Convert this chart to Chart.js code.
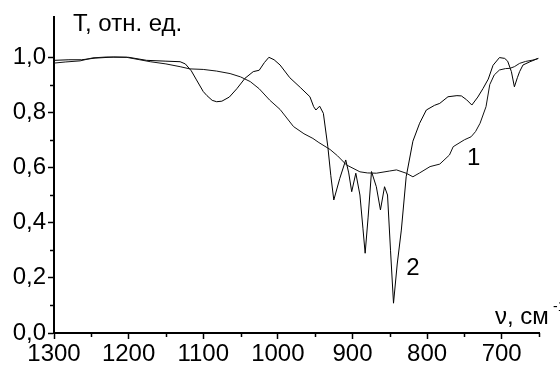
<!DOCTYPE html>
<html>
<head>
<meta charset="utf-8">
<script src="https://cdn.jsdelivr.net/npm/chart.js"></script>
<style>
  body { margin: 0; background: #fff; }
  #wrap { width: 560px; height: 369px; }
</style>
</head>
<body>
<div id="wrap"><canvas id="spectr" width="560" height="369"></canvas></div>
<script>

// curve 1 (smooth one)
let wn1 = [1300, 1285, 1265, 1248, 1230, 1203, 1185, 1171, 1150, 1131, 1118, 1100, 1082, 1064, 1050, 1037,
    1025, 1011, 997, 979, 965, 953, 945, 930, 920, 908, 890, 880, 868, 850, 841, 828, 819, 810, 796, 783,
    770, 765, 750, 741, 735, 729, 721, 716, 710, 703, 695, 689, 683, 676, 668, 658, 651];
let t1 = [0.978, 0.982, 0.986, 0.997, 1.0, 0.999, 0.99, 0.983, 0.975, 0.965, 0.957, 0.955, 0.949, 0.94, 0.928, 0.911,
    0.885, 0.844, 0.81, 0.748, 0.722, 0.705, 0.69, 0.665, 0.642, 0.609, 0.584, 0.58, 0.579, 0.587, 0.591, 0.579, 0.566, 0.58, 0.603, 0.612,
    0.645, 0.675, 0.7, 0.711, 0.73, 0.76, 0.82, 0.9, 0.935, 0.953, 0.958, 0.959, 0.965, 0.977, 0.984, 0.989, 0.995];

// curve 2 (with sharp bands)
let wn2 = [1300, 1280, 1263, 1245, 1220, 1200, 1176, 1150, 1131, 1124, 1116, 1109, 1100, 1095, 1088, 1082, 1075,
    1065, 1055, 1044, 1033, 1025, 1018, 1012, 1005, 997, 984, 970, 957, 952, 949, 944, 939, 933, 929, 925,
    917, 909, 905, 901, 895.5, 890, 886, 883, 879, 874.5, 868, 862.5, 857, 853, 849, 845, 840, 834.5, 828,
    819, 810, 801, 790, 783, 772, 760, 754, 747, 740, 732, 725, 718, 711.6, 703, 696, 692, 687, 683, 679,
    676, 671.5, 662, 651];
let t2 = [0.988, 0.99, 0.99, 0.996, 1.0, 0.999, 0.988, 0.985, 0.983, 0.975, 0.95, 0.917, 0.875, 0.86, 0.843, 0.838, 0.84,
    0.855, 0.885, 0.923, 0.947, 0.952, 0.98, 0.999, 0.99, 0.971, 0.925, 0.89, 0.856, 0.82, 0.808, 0.822, 0.796, 0.675, 0.57, 0.482,
    0.56, 0.627, 0.58, 0.512, 0.579, 0.5, 0.38, 0.289, 0.42, 0.585, 0.53, 0.446, 0.53, 0.5, 0.3, 0.108, 0.25, 0.373, 0.566,
    0.695, 0.76, 0.808, 0.825, 0.832, 0.856, 0.86, 0.859, 0.845, 0.826, 0.855, 0.886, 0.92, 0.97, 0.998, 0.995, 0.985, 0.947, 0.892, 0.925,
    0.947, 0.971, 0.983, 0.995];

let xTicks = [1300, 1200, 1100, 1000, 900, 800, 700];
let yTicks = [0.0, 0.2, 0.4, 0.6, 0.8, 1.0];

let yTitle = 'T, отн. ед.';
let xTitle = 'ν, см';
let curveNames = ['1', '2'];
let nameAt = [[737.5, 0.633], [819, 0.234]];

let fnt = '"Liberation Sans", Arial, sans-serif';

function pts(xs, ys) {
    return xs.map((x, i) => ({ x: x, y: ys[i] }));
}

function isMajorY(v) {
    return yTicks.some(t => Math.abs(t - v) < 1e-6);
}

// minor ticks and the texts
let extras = {
    id: 'extras',
    afterDraw(chart) {
        let ctx = chart.ctx;
        let sx = chart.scales.x, sy = chart.scales.y, area = chart.chartArea;
        ctx.save();
        ctx.strokeStyle = '#000';
        ctx.lineWidth = 1.5;
        ctx.beginPath();
        sx.ticks.forEach(t => {
            if (!xTicks.includes(t.value)) {
                let px = Math.round(sx.getPixelForValue(t.value)) + 0.5;
                ctx.moveTo(px, area.bottom);
                ctx.lineTo(px, area.bottom + 4);
            }
        });
        sy.ticks.forEach(t => {
            if (!isMajorY(t.value)) {
                let py = Math.round(sy.getPixelForValue(t.value)) + 0.5;
                ctx.moveTo(area.left, py);
                ctx.lineTo(area.left - 4, py);
            }
        });
        ctx.stroke();

        ctx.fillStyle = '#000';
        ctx.font = '24px ' + fnt;
        ctx.textAlign = 'left';
        ctx.textBaseline = 'alphabetic';
        ctx.fillText(yTitle, area.left + 19, 31);
        ctx.fillText(xTitle, 495, 324);
        ctx.font = '14px ' + fnt;
        ctx.fillText('-1', 553, 311);

        ctx.font = '24px ' + fnt;
        ctx.textAlign = 'center';
        ctx.textBaseline = 'middle';
        curveNames.forEach((n, i) => {
            ctx.fillText(n, sx.getPixelForValue(nameAt[i][0]), sy.getPixelForValue(nameAt[i][1]));
        });
        ctx.restore();
    }
};

let spectr = new Chart(document.getElementById('spectr').getContext('2d'), {
    type: 'line',
    data: {
        datasets: [{
            label: '1',
            data: pts(wn1, t1),
            borderColor: '#111',
            borderWidth: 1,
            pointRadius: 0,
            tension: 0,
        }, {
            label: '2',
            data: pts(wn2, t2),
            borderColor: '#000',
            borderWidth: 1,
            pointRadius: 0,
            tension: 0,
        }]
    },
    options: {
        responsive: false,
        animation: false,
        layout: { padding: { top: 17, right: 21, left: 0, bottom: 0 } },
        plugins: {
            legend: { display: false },
            tooltip: { enabled: false },
        },
        scales: {
            x: {
                type: 'linear',
                reverse: true,
                min: 650,
                max: 1300,
                afterFit: s => { s.height = 36; },
                border: { display: true, color: '#000', width: 2 },
                grid: {
                    drawOnChartArea: false,
                    tickLength: 6,
                    tickWidth: 1.5,
                    tickColor: c => xTicks.includes(c.tick.value) ? '#000' : 'rgba(0,0,0,0)',
                },
                ticks: {
                    stepSize: 50,
                    autoSkip: false,
                    maxRotation: 0,
                    padding: 1,
                    color: '#000',
                    font: { family: fnt, size: 24 },
                    callback: v => xTicks.includes(v) ? String(v) : '',
                }
            },
            y: {
                min: 0,
                max: 1.145,
                afterFit: s => { s.width = 54; },
                afterBuildTicks: s => {
                    s.ticks = s.ticks.filter(t => Math.abs(t.value * 10 - Math.round(t.value * 10)) < 1e-6);
                },
                border: { display: true, color: '#000', width: 2 },
                grid: {
                    drawOnChartArea: false,
                    tickLength: 6,
                    tickWidth: 1.5,
                    tickColor: c => isMajorY(c.tick.value) ? '#000' : 'rgba(0,0,0,0)',
                },
                ticks: {
                    stepSize: 0.1,
                    autoSkip: false,
                    padding: 2,
                    color: '#000',
                    font: { family: fnt, size: 24 },
                    callback: v => isMajorY(v) ? v.toFixed(1).replace('.', ',') : '',
                }
            }
        }
    },
    plugins: [extras]
});

</script>
</body>
</html>
